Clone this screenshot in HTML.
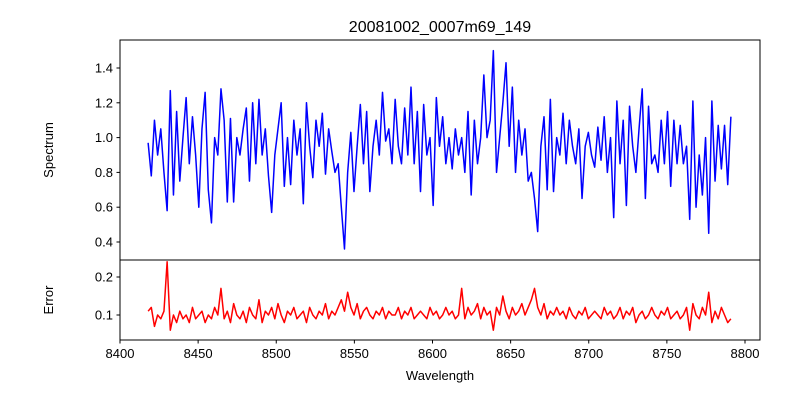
<!DOCTYPE html>
<html><head><meta charset="utf-8"><style>
body{margin:0;background:#fff}
svg{display:block;font-family:"Liberation Sans","DejaVu Sans",sans-serif}
</style></head><body>
<svg id="chart" width="800" height="400" xmlns="http://www.w3.org/2000/svg">
<rect width="800" height="400" fill="#fff"/>
<text x="440" y="32" font-size="16" text-anchor="middle">20081002_0007m69_149</text>
<g id="topPanel"></g>
<g id="botPanel"></g>
<text transform="translate(53,150) rotate(-90)" font-size="13" text-anchor="middle">Spectrum</text>
<text transform="translate(53,300) rotate(-90)" font-size="13" text-anchor="middle">Error</text>
<text x="440" y="380" font-size="13" text-anchor="middle">Wavelength</text>
</svg>
<script>
const wlStart = 8418;
const wlStep = 2.027;
const flux = [0.97,0.78,1.1,0.9,1.05,0.8,0.58,1.27,0.67,1.15,
0.75,1.0,1.23,0.85,1.12,0.9,0.6,1.05,1.26,0.7,
0.51,1.0,0.9,1.28,1.1,0.63,1.11,0.63,1.0,0.9,
1.05,1.17,0.75,1.2,0.85,1.22,0.9,1.05,0.78,0.57,
0.9,1.05,1.2,0.72,1.0,0.73,1.1,0.9,1.05,0.62,
1.2,0.95,0.77,1.1,0.95,1.14,0.79,1.05,0.92,0.8,
0.85,0.6,0.36,0.8,1.03,0.69,0.95,1.19,0.85,1.15,
0.69,0.95,1.1,0.9,1.26,0.98,1.05,0.85,1.22,0.95,
0.85,1.17,0.9,1.29,0.85,1.15,0.69,1.19,0.9,1.0,
0.61,1.23,0.95,1.12,0.85,1.0,0.82,1.05,0.9,1.0,
0.8,1.15,0.67,1.1,0.85,1.0,1.36,1.0,1.1,1.5,
0.8,1.0,1.2,1.43,0.95,1.29,0.8,1.1,0.9,1.05,
0.75,0.8,0.65,0.46,0.95,1.12,0.7,1.22,0.69,1.0,
0.9,1.14,0.85,1.1,0.95,0.85,1.05,0.65,0.95,1.03,
0.9,0.83,1.06,0.87,1.12,0.8,1.0,0.54,1.21,0.85,
1.1,0.61,1.18,0.95,0.8,1.05,1.28,0.65,1.18,0.85,
0.9,0.8,1.1,0.85,1.15,0.72,1.1,0.85,1.07,0.85,
0.95,0.53,1.21,0.6,0.9,0.67,1.0,0.45,1.21,0.75,
1.07,0.82,1.07,0.73,1.12];
const err = [0.11,0.12,0.07,0.10,0.09,0.11,0.24,0.06,0.10,0.08,
0.11,0.09,0.10,0.08,0.12,0.09,0.10,0.11,0.08,0.10,
0.09,0.12,0.10,0.17,0.09,0.11,0.08,0.13,0.10,0.09,
0.11,0.08,0.12,0.10,0.09,0.14,0.08,0.11,0.10,0.12,
0.09,0.13,0.10,0.08,0.11,0.10,0.12,0.09,0.10,0.11,
0.08,0.12,0.10,0.09,0.11,0.10,0.13,0.09,0.11,0.10,
0.12,0.14,0.11,0.16,0.12,0.10,0.13,0.09,0.11,0.12,
0.10,0.09,0.11,0.10,0.12,0.09,0.11,0.10,0.10,0.12,
0.09,0.11,0.10,0.12,0.09,0.10,0.11,0.10,0.09,0.12,
0.10,0.11,0.09,0.10,0.12,0.10,0.11,0.09,0.10,0.17,
0.09,0.12,0.10,0.11,0.13,0.09,0.12,0.10,0.11,0.06,
0.12,0.10,0.15,0.11,0.09,0.12,0.10,0.11,0.13,0.10,
0.12,0.14,0.17,0.12,0.10,0.13,0.09,0.11,0.10,0.12,
0.10,0.11,0.09,0.12,0.10,0.09,0.11,0.10,0.12,0.09,
0.10,0.11,0.10,0.09,0.12,0.10,0.11,0.09,0.10,0.12,
0.09,0.11,0.10,0.12,0.08,0.10,0.11,0.09,0.10,0.12,
0.10,0.09,0.11,0.10,0.12,0.09,0.10,0.11,0.09,0.10,
0.12,0.06,0.13,0.10,0.09,0.12,0.10,0.16,0.08,0.11,
0.09,0.12,0.10,0.08,0.09];
const xTicks = [8400,8450,8500,8550,8600,8650,8700,8750,8800];
const topTicks = [0.4,0.6,0.8,1.0,1.2,1.4];
const topTickLabels = ["0.4","0.6","0.8","1.0","1.2","1.4"];
const botTicks = [0.1,0.2];
const botTickLabels = ["0.1","0.2"];

const NS="http://www.w3.org/2000/svg";
const L=120,R=760,T1=40,B1=260,T2=260,B2=340;
const xS=v=>L+(v-8400)*625/400;
const y1=v=>242-(v-0.4)*174;
const y2=v=>315-(v-0.1)*380;
function mk(tag,attrs,parent){const e=document.createElementNS(NS,tag);for(const k in attrs)e.setAttribute(k,attrs[k]);parent.appendChild(e);return e;}
const topG=document.getElementById('topPanel'),botG=document.getElementById('botPanel');
function drawLine(parent,data,ys,color,name){
  let d='';data.forEach((v,i)=>{d+=(i?'L':'M')+xS(wlStart+i*wlStep).toFixed(2)+','+ys(v).toFixed(2);});
  const p=mk('path',{d:d,fill:'none',stroke:color,'stroke-width':1.5,'stroke-linejoin':'round'},parent);
  
  
}
drawLine(topG,flux,y1,'#0000ff','spectrum-line');
drawLine(botG,err,y2,'#ff0000','error-line');
function frame(parent,t,b,name){
  const r=mk('rect',{x:L,y:t,width:R-L,height:b-t,fill:'none',stroke:'#000','stroke-width':1},parent);
  
  
}
frame(topG,T1,B1,'spectrum-axes-frame');
frame(botG,T2,B2,'error-axes-frame');
function yticks(parent,ticks,labels,ys,name){
  ticks.forEach((v,i)=>{
    const y=ys(v);
    const tl=mk('line',{x1:L-3.5,x2:L,y1:y,y2:y,stroke:'#000'},parent);
    
    
    const t=mk('text',{x:L-7,y:y+4.5,'font-size':13,'text-anchor':'end'},parent);
    t.textContent=labels[i];
    
    
  });
}
yticks(topG,topTicks,topTickLabels,y1,'spectrum-y');
yticks(botG,botTicks,botTickLabels,y2,'error-y');
xTicks.forEach(v=>{
  const x=xS(v);
  const tl=mk('line',{x1:x,x2:x,y1:B2,y2:B2+3.5,stroke:'#000'},botG);
  
  
  const t=mk('text',{x:x,y:B2+18,'font-size':13,'text-anchor':'middle'},botG);
  t.textContent=String(v);
  
  
});
</script>
</body></html>
